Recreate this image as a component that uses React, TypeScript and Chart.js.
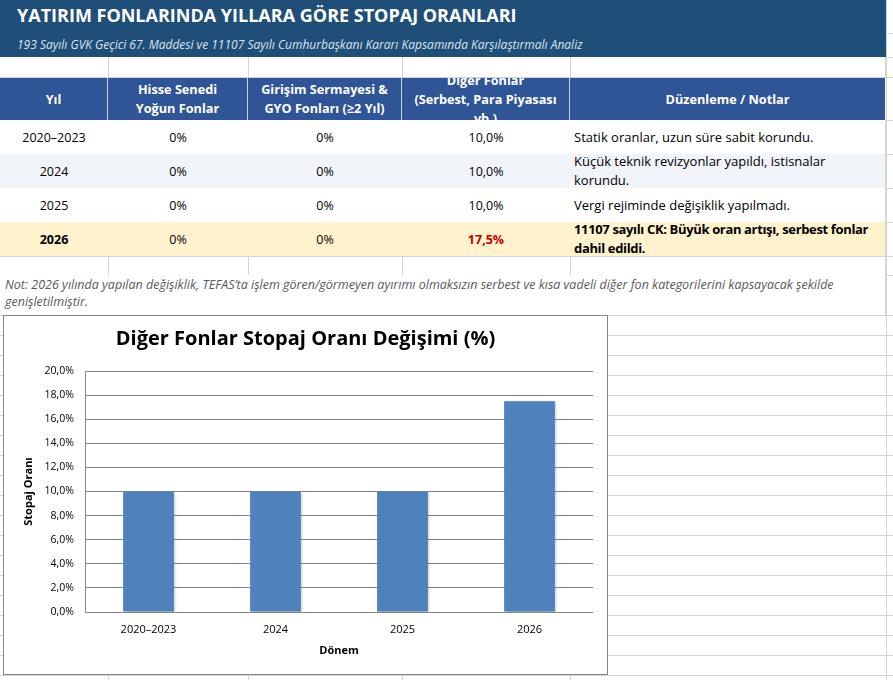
import React, { useEffect, useRef } from "react";
import { Chart, registerables } from "chart.js";

Chart.register(...registerables);

const periods: string[] = ["2020–2023", "2024", "2025", "2026"];
const hisseRates: string[] = ["0%", "0%", "0%", "0%"];
const girisimRates: string[] = ["0%", "0%", "0%", "0%"];
const digerRates: number[] = [10.0, 10.0, 10.0, 17.5];
const notes: string[][] = [
  ["Statik oranlar, uzun süre sabit korundu."],
  ["Küçük teknik revizyonlar yapıldı, istisnalar", "korundu."],
  ["Vergi rejiminde değişiklik yapılmadı."],
  ["11107 sayılı CK: Büyük oran artışı, serbest fonlar", "dahil edildi."],
];
const headers: string[][] = [
  ["Yıl"],
  ["Hisse Senedi", "Yoğun Fonlar"],
  ["Girişim Sermayesi &", "GYO Fonları (≥2 Yıl)"],
  ["Diğer Fonlar", "(Serbest, Para Piyasası", "vb.)"],
  ["Düzenleme / Notlar"],
];
const yMin = 0;
const yMax = 20;
const yStep = 2;

const TITLE = "YATIRIM FONLARINDA YILLARA GÖRE STOPAJ ORANLARI";
const SUBTITLE =
  "193 Sayılı GVK Geçici 67. Maddesi ve 11107 Sayılı Cumhurbaşkanı Kararı Kapsamında Karşılaştırmalı Analiz";
const NOTE_LINES = [
  "Not: 2026 yılında yapılan değişiklik, TEFAS’ta işlem gören/görmeyen ayırımı olmaksızın serbest ve kısa vadeli diğer fon kategorilerini kapsayacak şekilde",
  "genişletilmiştir.",
];
const CHART_TITLE = "Diğer Fonlar Stopaj Oranı Değişimi (%)";

const FONT = "'Open Sans', sans-serif";
const GRID = "#D4D4D4";
const fmt = (v: number) => v.toFixed(1).replace(".", ",") + "%";

const colX = [0, 108, 248, 402, 570, 885];
const rowY = [120, 154, 188, 222, 256];
const rowFill = ["#FFFFFF", "#F1F4F9", "#FFFFFF", "#FFF2CC"];

const barShadow = {
  id: "barShadow",
  beforeDatasetsDraw(chart: any) {
    const ctx = chart.ctx;
    ctx.save();
    ctx.shadowColor = "rgba(0,0,0,0.28)";
    ctx.shadowBlur = 3;
    ctx.shadowOffsetX = 1.5;
    ctx.shadowOffsetY = 1;
  },
  afterDatasetsDraw(chart: any) {
    chart.ctx.restore();
  },
};

function BarChart() {
  const ref = useRef<HTMLCanvasElement | null>(null);
  useEffect(() => {
    if (!ref.current) return;
    const chart = new Chart(ref.current, {
      type: "bar",
      data: {
        labels: periods,
        datasets: [
          {
            label: "Diğer Fonlar",
            data: digerRates,
            backgroundColor: "#4F81BD",
            borderWidth: 0,
            categoryPercentage: 1,
            barPercentage: 0.4,
          },
        ],
      },
      plugins: [barShadow],
      options: {
        animation: false,
        responsive: false,
        maintainAspectRatio: false,
        layout: { padding: { left: 14, right: 14, top: 0, bottom: 0 } },
        plugins: {
          legend: { display: false },
          tooltip: { enabled: false },
          title: {
            display: true,
            text: CHART_TITLE,
            color: "#000000",
            font: { family: FONT, size: 20, weight: "bold" },
            padding: { top: 11, bottom: 20 },
          },
        },
        scales: {
          x: {
            grid: { display: false, drawTicks: false },
            border: { display: false },
            ticks: { color: "#000", font: { family: FONT, size: 11 }, padding: 11 },
            title: {
              display: true,
              text: "Dönem",
              color: "#000",
              font: { family: FONT, size: 11, weight: "bold" },
              padding: { top: 0, bottom: 16 },
            },
            afterFit: (s: any) => {
              s.height = 61;
            },
          },
          y: {
            min: yMin,
            max: yMax,
            grid: { color: "#868686", lineWidth: 1, drawTicks: false },
            border: { display: true, color: "#868686" },
            ticks: {
              stepSize: yStep,
              color: "#000",
              font: { family: FONT, size: 10.5 },
              padding: 11,
              callback: (v: any) => fmt(Number(v)),
            },
            title: {
              display: true,
              text: "Stopaj Oranı",
              color: "#000",
              font: { family: FONT, size: 11, weight: "bold" },
              padding: { top: 4, bottom: 0 },
            },
            afterFit: (s: any) => {
              s.width = 67;
            },
          },
        },
      },
    });
    return () => chart.destroy();
  }, []);
  return <canvas ref={ref} width={603} height={357} style={{ display: "block", width: 603, height: 357 }} />;
}

export default function App() {
  const abs = (x: number, y: number, w: number, h: number, extra: React.CSSProperties = {}): React.CSSProperties => ({
    position: "absolute",
    left: x,
    top: y,
    width: w,
    height: h,
    boxSizing: "border-box",
    ...extra,
  });

  const lines: React.ReactNode[] = [];
  lines.push(<div key="vr" style={abs(886, 0, 1, 680, { background: GRID })} />);
  [33, 57, 77, 120, 154, 188, 222, 256, 275].forEach((y, i) =>
    lines.push(<div key={"hr" + i} style={abs(886, y, 7, 1, { background: GRID })} />)
  );
  for (let y = 315; y <= 675; y += 20) {
    lines.push(<div key={"hg" + y} style={abs(0, y, 893, 1, { background: GRID })} />);
  }
  [108, 248, 402, 570].forEach((x) => lines.push(<div key={"vb" + x} style={abs(x, 675, 1, 5, { background: GRID })} />));

  const cells: React.ReactNode[] = [];
  for (let c = 0; c < 5; c++) {
    cells.push(
      <div
        key={"e0" + c}
        style={abs(colX[c], 57, colX[c + 1] - colX[c] + 1, 21, {
          borderRight: `1px solid ${GRID}`,
          borderBottom: `1px solid ${GRID}`,
        })}
      />
    );
  }
  headers.forEach((h, c) => {
    cells.push(
      <div
        key={"h" + c}
        style={abs(colX[c], 78, colX[c + 1] - colX[c], 42, {
          background: "#2F5597",
          borderRight: c < 4 ? "1px solid #C9D3E8" : "none",
          color: "#FFFFFF",
          fontWeight: 700,
          fontSize: 12.7,
          lineHeight: "19px",
          display: "flex",
          flexDirection: "column",
          justifyContent: "center",
          alignItems: "center",
          overflow: "hidden",
          textAlign: "center",
          whiteSpace: "nowrap",
        })}
      >
        {h.map((t, i) => (
          <div key={i}>{t}</div>
        ))}
      </div>
    );
  });
  periods.forEach((p, r) => {
    const bold = r === 3;
    const vals = [p, hisseRates[r], girisimRates[r], fmt(digerRates[r])];
    vals.forEach((v, c) => {
      cells.push(
        <div
          key={"d" + r + c}
          style={abs(colX[c], rowY[r], colX[c + 1] - colX[c] + 1, rowY[r + 1] - rowY[r] + 1, {
            background: rowFill[r],
            borderRight: `1px solid ${GRID}`,
            borderBottom: `1px solid ${GRID}`,
            display: "flex",
            alignItems: "center",
            justifyContent: "center",
            fontSize: 12.5,
            fontWeight: bold && (c === 0 || c === 3) ? 700 : 400,
            color: bold && c === 3 ? "#C00000" : "#000000",
          })}
        >
          {v}
        </div>
      );
    });
    cells.push(
      <div
        key={"n" + r}
        style={abs(colX[4], rowY[r], colX[5] - colX[4] + 1, rowY[r + 1] - rowY[r] + 1, {
          background: rowFill[r],
          borderRight: `1px solid ${GRID}`,
          borderBottom: `1px solid ${GRID}`,
          display: "flex",
          flexDirection: "column",
          justifyContent: "center",
          paddingLeft: 4,
          fontSize: 13,
          lineHeight: "19px",
          fontWeight: bold ? 700 : 400,
          letterSpacing: bold ? -0.35 : 0,
          color: "#000",
          whiteSpace: "nowrap",
          overflow: "hidden",
        })}
      >
        {notes[r].map((t, i) => (
          <div key={i}>{t}</div>
        ))}
      </div>
    );
  });
  for (let c = 0; c < 5; c++) {
    cells.push(
      <div
        key={"e1" + c}
        style={abs(colX[c], 256, colX[c + 1] - colX[c] + 1, 20, {
          borderRight: `1px solid ${GRID}`,
          borderBottom: `1px solid ${GRID}`,
        })}
      />
    );
  }

  return (
    <div
      style={{
        position: "absolute",
        left: 0,
        top: 0,
        width: 893,
        height: 680,
        background: "#FFFFFF",
        overflow: "hidden",
        fontFamily: FONT,
      }}
    >
      {lines}
      <div style={abs(0, 0, 886, 57, { background: "#1F4E79" })}>
        <div
          style={{
            position: "absolute",
            left: 17,
            top: 3,
            color: "#FFFFFF",
            fontWeight: 700,
            fontSize: 18,
            whiteSpace: "nowrap",
          }}
        >
          {TITLE}
        </div>
        <div
          style={{
            position: "absolute",
            left: 17,
            top: 36,
            color: "#DCE4F0",
            fontStyle: "italic",
            fontSize: 12,
            whiteSpace: "nowrap",
          }}
        >
          {SUBTITLE}
        </div>
      </div>
      {cells}
      <div
        style={abs(0, 275, 886, 40, {
          background: "#FFFFFF",
          borderRight: `1px solid ${GRID}`,
          paddingLeft: 5,
          paddingTop: 1,
          fontStyle: "italic",
          fontSize: 12.5,
          lineHeight: "17px",
          color: "#595959",
          whiteSpace: "nowrap",
        })}
      >
        {NOTE_LINES.map((t, i) => (
          <div key={i}>{t}</div>
        ))}
      </div>
      <div style={abs(3, 315, 605, 360, { background: "#FFFFFF", border: "1px solid #868686" })}>
        <BarChart />
      </div>
    </div>
  );
}
